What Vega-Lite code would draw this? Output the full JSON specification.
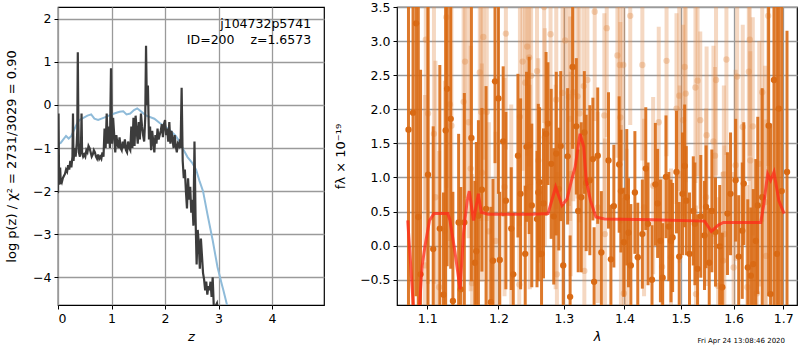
{
  "$schema": "https://vega.github.io/schema/vega-lite/v6.json",
  "padding": {"left": 4, "top": 0, "right": 0, "bottom": 0},
  "spacing": 8,
  "config": {
    "font": "DejaVu Sans",
    "view": {"stroke": "black", "strokeWidth": 1.2},
    "axis": {
      "domain": false, "grid": true, "gridOpacity": 1,
      "tickColor": "black", "tickSize": 4, "tickWidth": 1,
      "labelColor": "black", "labelFontSize": 12.5, "labelPadding": 3, "labelOverlap": false,
      "gridColor": "#9a9a9a", "gridWidth": 1.3,
      "titleColor": "black", "titleFontSize": 13, "titleFontWeight": "normal"
    }
  },
  "datasets": {
    "pz": [
      {"z":0.0,"lp":-2.05},{"z":0.01,"lp":-0.2},{"z":0.02,"lp":-1.7},{"z":0.03,"lp":-1.85},{"z":0.04,"lp":-1.45},{"z":0.05,"lp":-1.75},{"z":0.07,"lp":-1.8},{"z":0.09,"lp":-1.7},{"z":0.11,"lp":-1.65},{"z":0.13,"lp":-1.6},{"z":0.15,"lp":-1.5},{"z":0.17,"lp":-1.55},{"z":0.19,"lp":-1.4},{"z":0.21,"lp":-1.5},{"z":0.23,"lp":-1.3},{"z":0.25,"lp":-1.45},{"z":0.27,"lp":-1.2},{"z":0.28,"lp":-0.2},{"z":0.29,"lp":-1.3},{"z":0.31,"lp":-1.0},{"z":0.33,"lp":-1.2},{"z":0.35,"lp":-0.9},{"z":0.36,"lp":-0.6},{"z":0.37,"lp":1.22},{"z":0.38,"lp":-0.4},{"z":0.39,"lp":-1.1},{"z":0.41,"lp":-1.2},{"z":0.43,"lp":-0.9},{"z":0.44,"lp":-0.2},{"z":0.45,"lp":-1.1},{"z":0.47,"lp":-1.2},{"z":0.49,"lp":-1.15},{"z":0.51,"lp":-1.2},{"z":0.53,"lp":-1.05},{"z":0.55,"lp":-1.1},{"z":0.57,"lp":-0.95},{"z":0.59,"lp":-1.0},{"z":0.61,"lp":-1.1},{"z":0.63,"lp":-1.2},{"z":0.65,"lp":-1.15},{"z":0.67,"lp":-1.05},{"z":0.69,"lp":-1.1},{"z":0.71,"lp":-1.2},{"z":0.73,"lp":-1.25},{"z":0.75,"lp":-1.15},{"z":0.77,"lp":-1.25},{"z":0.79,"lp":-1.2},{"z":0.81,"lp":-1.25},{"z":0.83,"lp":-1.1},{"z":0.85,"lp":-1.2},{"z":0.87,"lp":-0.55},{"z":0.89,"lp":-1.0},{"z":0.91,"lp":-0.2},{"z":0.93,"lp":-0.9},{"z":0.95,"lp":-0.5},{"z":0.97,"lp":-1.0},{"z":0.99,"lp":0.85},{"z":1.01,"lp":-0.9},{"z":1.03,"lp":-0.3},{"z":1.05,"lp":-0.7},{"z":1.07,"lp":-1.1},{"z":1.09,"lp":-0.7},{"z":1.11,"lp":-0.9},{"z":1.13,"lp":-1.0},{"z":1.15,"lp":-0.75},{"z":1.17,"lp":-1.0},{"z":1.19,"lp":-1.05},{"z":1.21,"lp":-0.85},{"z":1.23,"lp":-1.0},{"z":1.25,"lp":-0.8},{"z":1.27,"lp":-1.05},{"z":1.29,"lp":-1.1},{"z":1.31,"lp":-0.85},{"z":1.33,"lp":-1.0},{"z":1.35,"lp":-1.05},{"z":1.37,"lp":-0.5},{"z":1.39,"lp":-1.0},{"z":1.41,"lp":-0.3},{"z":1.43,"lp":-0.95},{"z":1.45,"lp":-0.25},{"z":1.47,"lp":-0.6},{"z":1.49,"lp":-0.9},{"z":1.51,"lp":-0.4},{"z":1.53,"lp":-0.8},{"z":1.55,"lp":-0.2},{"z":1.57,"lp":-0.5},{"z":1.59,"lp":-0.7},{"z":1.61,"lp":-0.85},{"z":1.63,"lp":-0.3},{"z":1.645,"lp":1.37},{"z":1.66,"lp":0.0},{"z":1.68,"lp":0.45},{"z":1.7,"lp":-0.8},{"z":1.72,"lp":-0.5},{"z":1.74,"lp":-1.05},{"z":1.76,"lp":-0.6},{"z":1.78,"lp":-0.85},{"z":1.8,"lp":-1.1},{"z":1.82,"lp":-0.7},{"z":1.84,"lp":-0.9},{"z":1.86,"lp":-0.55},{"z":1.88,"lp":-0.8},{"z":1.9,"lp":-0.7},{"z":1.92,"lp":-0.6},{"z":1.94,"lp":-0.45},{"z":1.96,"lp":-0.75},{"z":1.98,"lp":-0.45},{"z":2.0,"lp":-0.35},{"z":2.02,"lp":-0.7},{"z":2.04,"lp":-0.55},{"z":2.06,"lp":-0.85},{"z":2.08,"lp":-0.4},{"z":2.1,"lp":-0.9},{"z":2.12,"lp":-0.6},{"z":2.14,"lp":-0.8},{"z":2.16,"lp":-1.0},{"z":2.18,"lp":-0.7},{"z":2.2,"lp":-0.95},{"z":2.22,"lp":-1.1},{"z":2.24,"lp":-0.9},{"z":2.26,"lp":-0.95},{"z":2.28,"lp":-0.8},{"z":2.29,"lp":-1.0},{"z":2.31,"lp":0.4},{"z":2.33,"lp":-1.3},{"z":2.35,"lp":-1.7},{"z":2.37,"lp":-1.5},{"z":2.39,"lp":-2.0},{"z":2.41,"lp":-2.4},{"z":2.43,"lp":-1.7},{"z":2.45,"lp":-2.2},{"z":2.47,"lp":-1.9},{"z":2.49,"lp":-2.5},{"z":2.51,"lp":-2.2},{"z":2.53,"lp":-2.8},{"z":2.55,"lp":-0.85},{"z":2.57,"lp":-2.6},{"z":2.59,"lp":-3.7},{"z":2.61,"lp":-2.9},{"z":2.63,"lp":-3.2},{"z":2.65,"lp":-3.8},{"z":2.67,"lp":-3.1},{"z":2.69,"lp":-3.5},{"z":2.71,"lp":-3.9},{"z":2.73,"lp":-4.05},{"z":2.75,"lp":-4.3},{"z":2.77,"lp":-4.1},{"z":2.79,"lp":-4.4},{"z":2.81,"lp":-4.2},{"z":2.83,"lp":-4.3},{"z":2.85,"lp":-4.1},{"z":2.87,"lp":-4.45},{"z":2.89,"lp":-4.0},{"z":2.91,"lp":-4.65},{"z":2.93,"lp":-4.7},{"z":2.97,"lp":-4.6},{"z":3.0,"lp":-4.9}
    ],
    "pzb": [
      {"z":0.0,"lp":-1.0},{"z":0.02,"lp":-0.9},{"z":0.05,"lp":-0.88},{"z":0.1,"lp":-0.8},{"z":0.15,"lp":-0.72},{"z":0.2,"lp":-0.78},{"z":0.25,"lp":-0.72},{"z":0.3,"lp":-0.58},{"z":0.35,"lp":-0.45},{"z":0.4,"lp":-0.35},{"z":0.45,"lp":-0.32},{"z":0.55,"lp":-0.25},{"z":0.62,"lp":-0.22},{"z":0.68,"lp":-0.32},{"z":0.75,"lp":-0.35},{"z":0.85,"lp":-0.3},{"z":0.95,"lp":-0.25},{"z":1.05,"lp":-0.2},{"z":1.15,"lp":-0.16},{"z":1.22,"lp":-0.15},{"z":1.28,"lp":-0.22},{"z":1.35,"lp":-0.2},{"z":1.42,"lp":-0.12},{"z":1.48,"lp":-0.08},{"z":1.55,"lp":-0.15},{"z":1.65,"lp":-0.25},{"z":1.8,"lp":-0.32},{"z":1.9,"lp":-0.42},{"z":2.0,"lp":-0.5},{"z":2.1,"lp":-0.6},{"z":2.2,"lp":-0.72},{"z":2.26,"lp":-0.83},{"z":2.35,"lp":-1.05},{"z":2.42,"lp":-1.21},{"z":2.5,"lp":-1.33},{"z":2.58,"lp":-1.5},{"z":2.64,"lp":-1.75},{"z":2.71,"lp":-2.0},{"z":2.79,"lp":-2.52},{"z":2.89,"lp":-3.14},{"z":2.98,"lp":-3.76},{"z":3.06,"lp":-4.16},{"z":3.09,"lp":-4.3},{"z":3.16,"lp":-4.65}
    ],
    "dark": [
      {"lam":1.075,"f":1.70,"err":4},{"lam":1.081,"f":1.95,"err":3.5},{"lam":1.085,"f":3.26,"err":4},{"lam":1.088,"f":0.42,"err":3.5},{"lam":1.091,"f":-0.42,"err":3},{"lam":1.101,"f":1.04,"err":2.5},{"lam":1.108,"f":-0.05,"err":1.8},{"lam":1.117,"f":0.25,"err":2.4},{"lam":1.122,"f":-0.72,"err":1.5},{"lam":1.125,"f":1.69,"err":2.8},{"lam":1.127,"f":2.30,"err":2.6},{"lam":1.132,"f":1.86,"err":2.2},{"lam":1.135,"f":-0.81,"err":1.6},{"lam":1.143,"f":0.34,"err":1.3},{"lam":1.146,"f":-0.64,"err":1.5},{"lam":1.151,"f":0.34,"err":1.9},{"lam":1.161,"f":1.58,"err":2.1},{"lam":1.166,"f":-0.25,"err":1.2},{"lam":1.168,"f":-0.08,"err":1.6},{"lam":1.171,"f":0.44,"err":1.4},{"lam":1.176,"f":0.82,"err":1.2},{"lam":1.182,"f":0.54,"err":1.8},{"lam":1.189,"f":-0.83,"err":1.4},{"lam":1.195,"f":2.41,"err":1.2},{"lam":1.200,"f":2.16,"err":1.4},{"lam":1.207,"f":1.53,"err":1.1},{"lam":1.211,"f":0.66,"err":1.3},{"lam":1.219,"f":0.25,"err":0.9},{"lam":1.192,"f":-0.22,"err":1.2},{"lam":1.202,"f":-0.21,"err":1.0},{"lam":1.222,"f":-0.42,"err":0.9},{"lam":1.229,"f":1.32,"err":1.2},{"lam":1.233,"f":0.76,"err":1.4},{"lam":1.240,"f":-0.12,"err":1.0},{"lam":1.242,"f":1.45,"err":1.1},{"lam":1.246,"f":1.47,"err":1.3},{"lam":1.250,"f":0.59,"err":1.2},{"lam":1.258,"f":0.39,"err":1.0},{"lam":1.260,"f":0.78,"err":1.3},{"lam":1.262,"f":0.93,"err":1.1},{"lam":1.265,"f":-0.12,"err":1.0},{"lam":1.268,"f":0.62,"err":1.1},{"lam":1.272,"f":1.64,"err":1.2},{"lam":1.275,"f":1.79,"err":0.9},{"lam":1.280,"f":1.20,"err":1.1},{"lam":1.284,"f":0.43,"err":1.0},{"lam":1.288,"f":1.35,"err":1.2},{"lam":1.292,"f":0.83,"err":0.9},{"lam":1.295,"f":1.46,"err":1.1},{"lam":1.299,"f":-0.29,"err":0.9},{"lam":1.306,"f":1.31,"err":1.0},{"lam":1.310,"f":-0.75,"err":0.9},{"lam":1.314,"f":2.62,"err":1.2},{"lam":1.320,"f":1.75,"err":1.0},{"lam":1.323,"f":0.51,"err":0.9},{"lam":1.328,"f":0.71,"err":1.1},{"lam":1.333,"f":1.66,"err":0.9},{"lam":1.336,"f":0.92,"err":1.0},{"lam":1.342,"f":0.96,"err":1.1},{"lam":1.347,"f":1.27,"err":0.9},{"lam":1.349,"f":-0.53,"err":0.8},{"lam":1.355,"f":1.32,"err":1.0},{"lam":1.361,"f":-0.10,"err":0.9},{"lam":1.373,"f":1.25,"err":1.0},{"lam":1.377,"f":-0.20,"err":0.8},{"lam":1.382,"f":0.58,"err":0.9},{"lam":1.391,"f":1.19,"err":1.0},{"lam":1.394,"f":0.80,"err":0.9},{"lam":1.399,"f":0.05,"err":0.8},{"lam":1.404,"f":0.71,"err":1.0},{"lam":1.407,"f":0.19,"err":0.8},{"lam":1.411,"f":-0.29,"err":0.9},{"lam":1.418,"f":0.78,"err":0.9},{"lam":1.423,"f":-0.17,"err":0.8},{"lam":1.431,"f":0.17,"err":0.8},{"lam":1.437,"f":1.13,"err":0.9},{"lam":1.441,"f":0.32,"err":0.9},{"lam":1.448,"f":-0.50,"err":0.8},{"lam":1.454,"f":0.90,"err":0.9},{"lam":1.458,"f":0.62,"err":0.8},{"lam":1.463,"f":0.07,"err":0.9},{"lam":1.467,"f":-0.47,"err":0.8},{"lam":1.473,"f":1.01,"err":0.9},{"lam":1.478,"f":0.28,"err":0.8},{"lam":1.482,"f":0.07,"err":0.9},{"lam":1.485,"f":0.12,"err":0.8},{"lam":1.492,"f":1.08,"err":0.9},{"lam":1.497,"f":-0.16,"err":0.8},{"lam":1.503,"f":0.76,"err":0.9},{"lam":1.507,"f":1.17,"err":0.9},{"lam":1.510,"f":0.66,"err":0.8},{"lam":1.516,"f":-0.12,"err":0.9},{"lam":1.523,"f":0.51,"err":0.8},{"lam":1.526,"f":0.32,"err":0.9},{"lam":1.531,"f":-0.34,"err":0.8},{"lam":1.537,"f":0.43,"err":0.9},{"lam":1.544,"f":0.15,"err":0.8},{"lam":1.547,"f":0.57,"err":0.9},{"lam":1.553,"f":-0.25,"err":0.8},{"lam":1.558,"f":0.51,"err":0.9},{"lam":1.565,"f":0.20,"err":0.8},{"lam":1.573,"f":-0.01,"err":0.9},{"lam":1.578,"f":-0.61,"err":0.8},{"lam":1.588,"f":0.47,"err":0.9},{"lam":1.594,"f":0.76,"err":0.9},{"lam":1.604,"f":0.96,"err":0.9},{"lam":1.610,"f":-0.16,"err":0.9},{"lam":1.617,"f":0.22,"err":1.0},{"lam":1.620,"f":0.91,"err":0.9},{"lam":1.628,"f":-0.32,"err":1.0},{"lam":1.634,"f":-0.44,"err":1.0},{"lam":1.639,"f":-0.27,"err":1.1},{"lam":1.644,"f":0.07,"err":1.2},{"lam":1.648,"f":0.59,"err":1.3},{"lam":1.657,"f":0.71,"err":1.6},{"lam":1.670,"f":1.76,"err":2.5},{"lam":1.674,"f":-0.71,"err":2.5},{"lam":1.681,"f":2.43,"err":3.5},{"lam":1.687,"f":-0.12,"err":3.8},{"lam":1.691,"f":2.01,"err":4},{"lam":1.697,"f":0.8,"err":4},{"lam":1.708,"f":1.08,"err":2.07}
    ],
    "light": [
      {"lam":1.097,"f":-0.29,"err":2.5},{"lam":1.098,"f":3.02,"err":2.5},{"lam":1.101,"f":1.94,"err":2.5},{"lam":1.109,"f":1.64,"err":2.2},{"lam":1.111,"f":0.71,"err":2.0},{"lam":1.116,"f":-0.61,"err":2.0},{"lam":1.124,"f":0.22,"err":2.2},{"lam":1.126,"f":3.35,"err":2.5},{"lam":1.131,"f":2.07,"err":2.0},{"lam":1.133,"f":1.76,"err":1.8},{"lam":1.150,"f":2.11,"err":1.8},{"lam":1.152,"f":2.70,"err":2.0},{"lam":1.157,"f":1.81,"err":1.7},{"lam":1.160,"f":1.13,"err":1.8},{"lam":1.162,"f":-0.55,"err":1.6},{"lam":1.173,"f":2.54,"err":1.8},{"lam":1.175,"f":1.96,"err":1.6},{"lam":1.176,"f":1.07,"err":1.6},{"lam":1.178,"f":3.06,"err":1.8},{"lam":1.183,"f":1.96,"err":1.6},{"lam":1.186,"f":0.21,"err":1.6},{"lam":1.196,"f":0.07,"err":1.6},{"lam":1.209,"f":0.86,"err":1.6},{"lam":1.211,"f":3.11,"err":1.7},{"lam":1.219,"f":0.47,"err":1.6},{"lam":1.231,"f":-0.57,"err":1.5},{"lam":1.232,"f":1.89,"err":1.6},{"lam":1.236,"f":2.70,"err":1.6},{"lam":1.240,"f":2.39,"err":1.6},{"lam":1.243,"f":2.92,"err":1.6},{"lam":1.246,"f":2.76,"err":1.6},{"lam":1.247,"f":0.86,"err":1.5},{"lam":1.249,"f":2.49,"err":1.6},{"lam":1.258,"f":2.56,"err":1.6},{"lam":1.260,"f":1.25,"err":1.5},{"lam":1.269,"f":3.50,"err":1.7},{"lam":1.270,"f":1.59,"err":1.6},{"lam":1.279,"f":3.10,"err":1.6},{"lam":1.287,"f":0.86,"err":1.5},{"lam":1.288,"f":2.14,"err":1.6},{"lam":1.289,"f":-0.42,"err":1.5},{"lam":1.298,"f":2.24,"err":1.6},{"lam":1.302,"f":3.01,"err":1.6},{"lam":1.308,"f":2.18,"err":1.6},{"lam":1.310,"f":1.86,"err":1.5},{"lam":1.311,"f":1.05,"err":1.5},{"lam":1.315,"f":2.25,"err":1.6},{"lam":1.322,"f":2.19,"err":1.5},{"lam":1.325,"f":1.94,"err":1.6},{"lam":1.332,"f":2.34,"err":1.5},{"lam":1.333,"f":-0.37,"err":1.4},{"lam":1.338,"f":2.43,"err":1.5},{"lam":1.350,"f":3.43,"err":1.6},{"lam":1.355,"f":0.56,"err":1.4},{"lam":1.366,"f":1.91,"err":1.5},{"lam":1.367,"f":0.17,"err":1.4},{"lam":1.370,"f":3.19,"err":1.6},{"lam":1.388,"f":2.79,"err":1.5},{"lam":1.392,"f":2.65,"err":1.5},{"lam":1.393,"f":1.88,"err":1.4},{"lam":1.394,"f":0.37,"err":1.4},{"lam":1.398,"f":2.65,"err":1.4},{"lam":1.399,"f":-0.70,"err":1.4},{"lam":1.404,"f":0.12,"err":1.3},{"lam":1.410,"f":3.37,"err":1.6},{"lam":1.431,"f":2.65,"err":1.4},{"lam":1.434,"f":0.56,"err":1.3},{"lam":1.450,"f":0.88,"err":1.3},{"lam":1.460,"f":1.81,"err":1.4},{"lam":1.466,"f":-0.31,"err":1.3},{"lam":1.474,"f":2.71,"err":1.4},{"lam":1.482,"f":-0.17,"err":1.3},{"lam":1.492,"f":2.01,"err":1.4},{"lam":1.497,"f":2.20,"err":1.4},{"lam":1.498,"f":1.05,"err":1.3},{"lam":1.504,"f":1.84,"err":1.4},{"lam":1.507,"f":2.62,"err":1.4},{"lam":1.509,"f":2.23,"err":1.3},{"lam":1.527,"f":2.32,"err":1.4},{"lam":1.528,"f":-0.71,"err":1.3},{"lam":1.531,"f":2.42,"err":1.4},{"lam":1.536,"f":1.84,"err":1.3},{"lam":1.547,"f":0.71,"err":1.3},{"lam":1.548,"f":1.62,"err":1.3},{"lam":1.561,"f":1.53,"err":1.4},{"lam":1.564,"f":1.32,"err":1.3},{"lam":1.566,"f":2.43,"err":1.4},{"lam":1.570,"f":-0.59,"err":1.3},{"lam":1.579,"f":-0.22,"err":1.3},{"lam":1.581,"f":1.05,"err":1.3},{"lam":1.582,"f":0.17,"err":1.3},{"lam":1.586,"f":2.73,"err":1.4},{"lam":1.600,"f":-0.32,"err":1.4},{"lam":1.604,"f":1.18,"err":1.4},{"lam":1.607,"f":2.48,"err":1.5},{"lam":1.618,"f":1.74,"err":1.5},{"lam":1.627,"f":-0.61,"err":1.5},{"lam":1.630,"f":2.55,"err":1.6},{"lam":1.632,"f":3.02,"err":1.7},{"lam":1.633,"f":1.25,"err":1.6},{"lam":1.638,"f":1.75,"err":1.6},{"lam":1.646,"f":-0.70,"err":1.7},{"lam":1.651,"f":1.20,"err":1.8},{"lam":1.657,"f":2.25,"err":1.9},{"lam":1.663,"f":0.64,"err":2.0},{"lam":1.665,"f":-0.15,"err":2.0},{"lam":1.669,"f":3.37,"err":2.2}
    ],
    "model": [
      {"lam":1.074,"f":0.37},{"lam":1.078,"f":-0.3},{"lam":1.082,"f":-1.0},{"lam":1.089,"f":-1.0},{"lam":1.093,"f":-0.3},{"lam":1.097,"f":0.0},{"lam":1.103,"f":0.37},{"lam":1.109,"f":0.47},{"lam":1.128,"f":0.47},{"lam":1.131,"f":0.37},{"lam":1.138,"f":-0.1},{"lam":1.145,"f":-0.64},{"lam":1.150,"f":0.2},{"lam":1.155,"f":0.66},{"lam":1.158,"f":0.8},{"lam":1.164,"f":0.37},{"lam":1.171,"f":0.76},{"lam":1.175,"f":0.49},{"lam":1.185,"f":0.46},{"lam":1.25,"f":0.46},{"lam":1.275,"f":0.47},{"lam":1.287,"f":0.86},{"lam":1.297,"f":0.59},{"lam":1.305,"f":0.68},{"lam":1.312,"f":0.95},{"lam":1.318,"f":1.15},{"lam":1.326,"f":1.64},{"lam":1.332,"f":1.45},{"lam":1.336,"f":0.96},{"lam":1.343,"f":0.66},{"lam":1.352,"f":0.42},{"lam":1.366,"f":0.39},{"lam":1.45,"f":0.38},{"lam":1.544,"f":0.36},{"lam":1.557,"f":0.21},{"lam":1.57,"f":0.30},{"lam":1.58,"f":0.34},{"lam":1.654,"f":0.34},{"lam":1.660,"f":0.6},{"lam":1.668,"f":1.05},{"lam":1.674,"f":0.96},{"lam":1.681,"f":1.08},{"lam":1.691,"f":0.66},{"lam":1.702,"f":0.47}
    ],
    "labels": [
      {"text": "j104732p5741", "z": 4.73, "lp": 1.88},
      {"text": "ID=200\u00a0\u00a0\u00a0\u00a0z=1.6573", "z": 4.73, "lp": 1.51}
    ]
  },
  "hconcat": [
    {
      "width": 266,
      "height": 298,
      "encoding": {
        "x": {"field": "z", "type": "quantitative", "title": "z", "scale": {"domain": [0, 4.97], "nice": false, "zero": false}, "axis": {"grid": true, "values": [0, 1, 2, 3, 4], "format": "d", "titleFontStyle": "italic", "titlePadding": 6}},
        "y": {"field": "lp", "type": "quantitative", "title": "log p(z) / χ² = 2731/3029 = 0.90", "scale": {"domain": [-4.64, 2.27], "nice": false, "zero": false}, "axis": {"grid": true, "values": [-4, -3, -2, -1, 0, 1, 2], "format": "d", "minExtent": 24, "maxExtent": 24, "titlePadding": 16}}
      },
      "layer": [
        {
          "data": {"name": "pzb"},
          "mark": {"type": "line", "color": "#8fbbd9", "strokeWidth": 2, "clip": true}
        },
        {
          "data": {"name": "pz"},
          "mark": {"type": "line", "color": "#3c3c3c", "strokeWidth": 2.2, "clip": true}
        },
        {
          "data": {"name": "labels"},
          "mark": {"type": "text", "align": "right", "baseline": "middle", "fontSize": 12.5, "color": "black"},
          "encoding": {"text": {"field": "text"}}
        }
      ]
    },
    {
      "width": 400,
      "height": 298,
      "title": {"text": "Fri Apr 24 13:08:46 2020", "orient": "bottom", "anchor": "end", "fontSize": 7, "fontWeight": "normal", "offset": -7, "dx": -12, "color": "black"},
      "layer": [
        {
          "encoding": {
            "x": {"field": "lam", "type": "quantitative", "title": "λ", "scale": {"type": "log", "domain": [1.06, 1.729], "nice": false}, "axis": {"grid": true, "values": [1.1, 1.2, 1.3, 1.4, 1.5, 1.6, 1.7], "format": ".1f", "titleFontStyle": "italic", "titlePadding": 6}},
            "y": {"field": "f", "type": "quantitative", "title": "fλ × 10⁻¹⁹", "scale": {"domain": [-0.87, 3.5], "nice": false, "zero": false}, "axis": {"grid": true, "values": [-0.5, 0, 0.5, 1, 1.5, 2, 2.5, 3, 3.5], "format": ".1f", "minExtent": 36, "maxExtent": 36, "titlePadding": 14}}
          },
          "layer": [
            {
              "data": {"name": "light"},
              "mark": {"type": "errorbar", "color": "#e08a45", "opacity": 0.33, "thickness": 4, "clip": true},
              "encoding": {
                "y": {"field": "f", "type": "quantitative", "title": "fλ × 10⁻¹⁹", "scale": {"domain": [-0.87, 3.5], "nice": false, "zero": false}, "axis": {"grid": true, "values": [-0.5, 0, 0.5, 1, 1.5, 2, 2.5, 3, 3.5], "format": ".1f", "minExtent": 36, "maxExtent": 36, "titlePadding": 14}},
                "yError": {"field": "err"}
              }
            },
            {
              "data": {"name": "light"},
              "mark": {"type": "circle", "color": "#e08a45", "opacity": 0.35, "size": 40, "clip": true}
            },
            {
              "data": {"name": "dark"},
              "mark": {"type": "errorbar", "color": "#d96a14", "opacity": 0.9, "thickness": 3, "clip": true},
              "encoding": {
                "y": {"field": "f", "type": "quantitative", "title": "fλ × 10⁻¹⁹", "scale": {"domain": [-0.87, 3.5], "nice": false, "zero": false}, "axis": {"grid": true, "values": [-0.5, 0, 0.5, 1, 1.5, 2, 2.5, 3, 3.5], "format": ".1f", "minExtent": 36, "maxExtent": 36, "titlePadding": 14}},
                "yError": {"field": "err"}
              }
            },
            {
              "data": {"name": "dark"},
              "mark": {"type": "circle", "color": "#d96a14", "opacity": 1, "size": 40, "clip": true}
            },
            {
              "data": {"name": "model"},
              "mark": {"type": "line", "color": "#ff2a1a", "opacity": 0.75, "strokeWidth": 3, "clip": true}
            }
          ]
        },
        {
          "mark": {"type": "rule", "color": "black", "strokeDash": [2, 3], "strokeWidth": 1.6},
          "encoding": {"y": {"datum": 0, "type": "quantitative", "title": "fλ × 10⁻¹⁹", "scale": {"domain": [-0.87, 3.5], "nice": false, "zero": false}, "axis": {"grid": true, "values": [-0.5, 0, 0.5, 1, 1.5, 2, 2.5, 3, 3.5], "format": ".1f", "minExtent": 36, "maxExtent": 36, "titlePadding": 14}}}
        }
      ]
    }
  ]
}
